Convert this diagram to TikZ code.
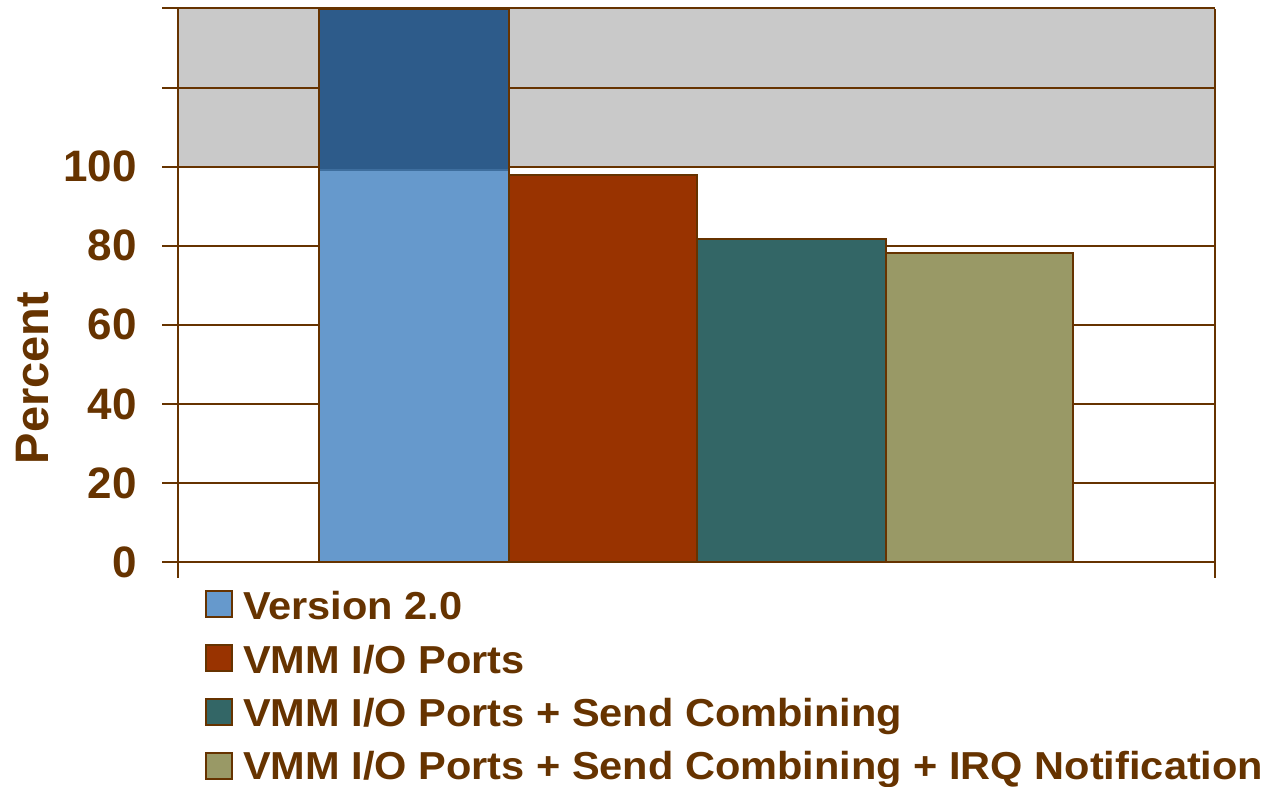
\documentclass[tikz,border=0pt]{standalone}
\usepackage{fontspec}
\setmainfont{Liberation Sans}
\definecolor{axisbrown}{HTML}{663300}
\definecolor{plotgray}{HTML}{C9C9C9}
\definecolor{verblue}{HTML}{6699CC}
\definecolor{verdark}{HTML}{2D5B8A}
\definecolor{portsrust}{HTML}{993300}
\definecolor{sendteal}{HTML}{336666}
\definecolor{irqolive}{HTML}{999966}
\tikzset{
  gridline/.style={draw=axisbrown, line width=2pt},
  barbox/.style={draw=axisbrown, line width=2pt},
  ticklabel/.style={text=axisbrown, anchor=east, inner sep=0pt,
    font=\bfseries\fontsize{44}{44}\selectfont},
  legendkey/.style={draw=axisbrown, line width=1.6pt, minimum width=26pt,
    minimum height=26pt, inner sep=0pt, anchor=south west},
  legendtext/.style={text=axisbrown, anchor=base west, inner sep=0pt,
    xscale=1.065, transform shape,
    font=\bfseries\fontsize{39}{39}\selectfont}
}
\begin{document}
\begin{tikzpicture}[x=1pt, y=-1pt]
\useasboundingbox (0,0) rectangle (1264,787);
% shaded band above 100 percent
\fill[plotgray] (178,9) rectangle (1215,167);
% horizontal grid lines every 20 percent
\foreach \v in {0,20,...,140} {
  \pgfmathsetmacro{\yy}{562-3.9536*\v}
  \draw[gridline] (162,\yy) -- (1215,\yy);
}
% bars
\filldraw[barbox, fill=verblue]   (319,170) rectangle (509,562);
\filldraw[barbox, fill=verdark]   (319,9)   rectangle (509,170);
\draw[color=verdark!70!verblue, line width=1.2pt] (320,170) -- (508,170);
\filldraw[barbox, fill=portsrust] (509,174.5) rectangle (697,562);
\filldraw[barbox, fill=sendteal]  (697,238.5) rectangle (886,562);
\filldraw[barbox, fill=irqolive]  (886,252.5) rectangle (1073,562);
% axes
\draw[gridline] (178,9) -- (178,578);
\draw[gridline] (1215,9) -- (1215,578);
\draw[gridline] (162,562) -- (1215,562);
% value axis labels
\foreach \v in {0,20,...,100} {
  \pgfmathsetmacro{\yy}{562-3.9536*\v}
  \node[ticklabel] (tick\v) at (137,\yy) {\v};
}
\node[text=axisbrown, rotate=90, inner sep=0pt,
  font=\bfseries\fontsize{47}{47}\selectfont] (ylabel) at (33,378) {Percent};
% legend
\node[legendkey, fill=verblue]   (k1) at (205,618) {};
\node[legendkey, fill=portsrust] (k2) at (205,672) {};
\node[legendkey, fill=sendteal]  (k3) at (205,726) {};
\node[legendkey, fill=irqolive]  (k4) at (205,780) {};
\node[legendtext] (t1) at (243,619) {Version 2.0};
\node[legendtext] (t2) at (243,673) {VMM I/O Ports};
\node[legendtext] (t3) at (243,726) {VMM I/O Ports + Send Combining};
\node[legendtext] (t4) at (243,779) {VMM I/O Ports + Send Combining + IRQ Notification};
\end{tikzpicture}
\end{document}
